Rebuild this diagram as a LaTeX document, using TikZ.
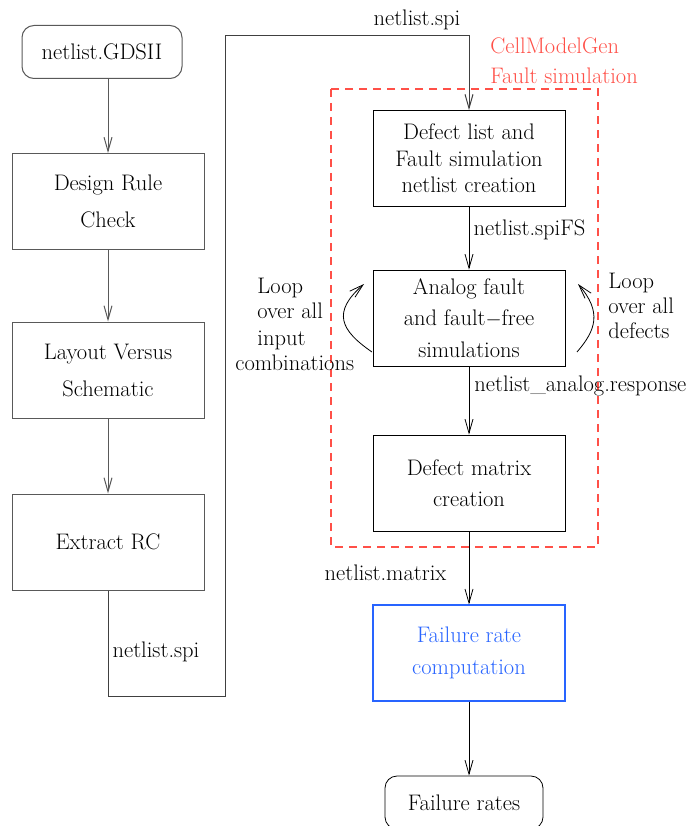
\documentclass[tikz,border=0pt]{standalone}
\usetikzlibrary{arrows.meta}
\definecolor{loopred}{RGB}{255,80,72}
\definecolor{rateblue}{RGB}{40,100,255}
\tikzset{
    procbox/.style={draw, minimum width=192pt, minimum height=96pt, align=center},
    termbox/.style={draw, rounded corners=12pt, minimum width=160pt, minimum height=53pt},
    arr/.style={-{Straight Barb[length=14pt,width=8pt]}},
    lbl/.style={inner sep=0pt}
}
\begin{document}
\begin{tikzpicture}[x=1pt, y=-1pt, line width=0.8pt,
    every node/.append style={font=\fontsize{22.5}{26.5}\selectfont}]
    \useasboundingbox (0,0) rectangle (686,826);

    % left column: layout checks
    \begin{scope}[black!65, line width=1pt]
    \node[termbox, text=black] (gds) at (102,52) {netlist.GDSII};
    \node[procbox, text=black] (drc) at (108,201.5) {Design Rule\\[10.5pt]Check};
    \node[procbox, text=black] (lvs) at (108,370) {Layout Versus\\[10.5pt]Schematic};
    \node[procbox, text=black] (erc) at (108,542) {Extract RC};
    \draw[arr] (gds.south -| drc.north) -- (drc.north);
    \draw[arr] (drc.south) -- (lvs.north);
    \draw[arr] (lvs.south) -- (erc.north);
    \end{scope}

    % right column: fault simulation
    \draw[loopred, line width=1.1pt, dash pattern=on 8pt off 6pt] (331,89) rectangle (598,547);
    \node[lbl, loopred, anchor=west] (cmg) at (490,46) {CellModelGen};
    \node[lbl, loopred, anchor=west] (fsim) at (490,76) {Fault simulation};

    \node[procbox] (dfl) at (469,158.5) {Defect list and\\Fault simulation\\netlist creation};
    \node[procbox] (afs) at (469,318) {Analog fault\\[5pt]and fault$-$free\\[5pt]simulations};
    \node[procbox] (dmc) at (469,483) {Defect matrix\\[5pt]creation};
    \node[procbox, draw=rateblue, text=rateblue, line width=1.1pt] (frc) at (469,653) {Failure rate\\[5pt]computation};
    \node[termbox, minimum width=158pt] (frt) at (464,802.5) {Failure rates};

    % netlist.spi wire
    \coordinate (spibot) at (225,696);
    \coordinate (spitop) at (225,36);
    \draw[arr, black!75, line width=1pt] (erc.south) |- (spibot) -- (spitop) -| (dfl.north);
    \node[lbl] (spi1) at (156,652) {netlist.spi};
    \node[lbl] (spi2) at (417,20) {netlist.spi};

    \draw[arr] (dfl.south) -- (afs.north);
    \draw[arr] (afs.south) -- (dmc.north);
    \draw[arr] (dmc.south) -- (frc.north);
    \draw[arr] (frc.south) -- (frc.south |- frt.north);
    \node[lbl] (spifs) at (529.5,230) {netlist.spiFS};
    \node[lbl, anchor=west] (resp) at (474,386) {netlist\_analog.response};
    \node[lbl] (mtx) at (385.5,573) {netlist.matrix};

    % loops round the simulation box
    \draw[arr] (372,352) .. controls (340,330) and (332,312) .. (364,284);
    \draw[arr] (577,352) .. controls (596,330) and (602,312) .. (578,284);
    \node[lbl, anchor=base west] (la) at (257,293) {Loop};
    \node[lbl, anchor=base west] (lb) at (257,318) {over all};
    \node[lbl, anchor=base west] (lc) at (257,345) {input};
    \node[lbl, anchor=base west] (ld) at (235,370) {combinations};
    \node[lbl, anchor=base west] (ra) at (608,288) {Loop};
    \node[lbl, anchor=base west] (rb) at (608,313) {over all};
    \node[lbl, anchor=base west] (rc) at (608,338) {defects};
\end{tikzpicture}
\end{document}
